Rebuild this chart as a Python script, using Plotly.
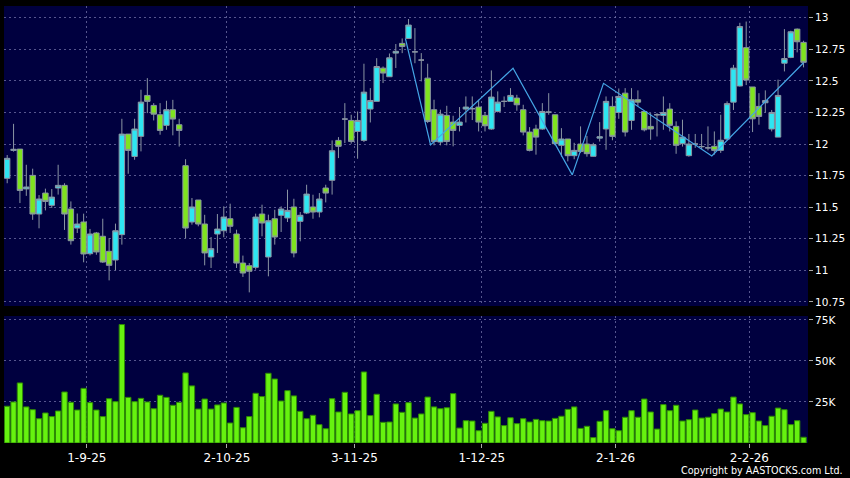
import plotly.graph_objects as go

# ---- data ----
opens = [11.729, 11.95, 11.96, 11.645, 11.752, 11.446, 11.612, 11.515, 11.652, 11.673,
         11.486, 11.335, 11.383, 11.132, 11.296, 11.27, 11.151, 11.082, 11.283, 12.079,
         11.902, 12.061, 12.385, 12.306, 12.232, 12.148, 12.272, 12.153, 11.829, 11.383,
         11.557, 11.367, 11.106, 11.288, 11.314, 11.409, 11.288, 11.058, 11.037, 11.024,
         11.446, 11.106, 11.409, 11.436, 11.415, 11.502, 11.388, 11.454, 11.502, 11.462,
         11.652, 11.713, 12.029, 12.198, 12.187, 12.1, 12.029, 12.277, 12.338, 12.601,
         12.533, 12.72, 12.797, 12.836, 12.73, 12.665, 12.522, 12.272, 12.016, 12.227,
         12.174, 12.148, 12.277, 12.28, 12.293, 12.227, 12.119, 12.258, 12.338, 12.338,
         12.364, 12.272, 12.095, 12.119, 12.119, 12.253, 12.232, 11.99, 12.04, 11.908,
         12.0, 12.0, 11.903, 12.047, 12.119, 12.298, 12.25, 12.403, 12.187, 12.351,
         12.258, 12.14, 12.232, 12.227, 12.277, 12.14, 12.003, 11.908, 12.0, 11.98,
         11.97, 11.982, 11.95, 12.04, 12.332, 12.46, 12.763, 12.452, 12.298, 12.327,
         12.119, 12.055, 12.64, 12.686, 12.91, 12.805]
highs = [11.913, 12.16, 11.96, 11.836, 11.805, 11.596, 11.647, 11.644, 11.836, 11.69,
         11.546, 11.45, 11.449, 11.328, 11.304, 11.409, 11.256, 11.37, 12.2, 12.079,
         12.2, 12.43, 12.522, 12.324, 12.324, 12.343, 12.35, 12.2, 11.88, 11.573,
         11.557, 11.44, 11.264, 11.446, 11.507, 11.528, 11.322, 11.117, 11.058, 11.449,
         11.52, 11.441, 11.48, 11.507, 11.639, 11.567, 11.462, 11.678, 11.599, 11.612,
         11.678, 12.029, 12.055, 12.324, 12.232, 12.258, 12.636, 12.443, 12.68, 12.614,
         12.717, 12.792, 12.836, 12.99, 12.918, 12.72, 12.636, 12.351, 12.272, 12.303,
         12.224, 12.293, 12.377, 12.377, 12.351, 12.253, 12.583, 12.417, 12.377, 12.443,
         12.39, 12.311, 12.134, 12.153, 12.324, 12.403, 12.232, 12.126, 12.04, 12.01,
         12.14, 12.064, 12.01, 12.174, 12.377, 12.377, 12.44, 12.443, 12.443, 12.425,
         12.258, 12.245, 12.245, 12.377, 12.324, 12.18, 12.193, 12.08, 12.08, 12.08,
         12.14, 12.1, 12.232, 12.338, 12.627, 12.96, 12.97, 12.452, 12.403, 12.425,
         12.27, 12.51, 12.91, 12.897, 12.915, 12.818]
lows = [11.69, 11.94, 11.533, 11.59, 11.40, 11.333, 11.475, 11.494, 11.60, 11.32,
        11.204, 11.296, 11.064, 11.119, 11.124, 11.059, 10.921, 11.0, 11.204, 11.765,
        11.876, 11.942, 12.245, 12.187, 12.074, 12.113, 12.069, 11.98, 11.254, 11.362,
        11.349, 11.04, 11.019, 11.138, 11.262, 11.296, 11.019, 10.948, 10.826, 11.006,
        11.27, 10.953, 11.204, 11.304, 11.383, 11.103, 11.23, 11.446, 11.409, 11.42,
        11.538, 11.6, 11.889, 12.008, 12.003, 11.884, 12.016, 12.171, 12.338, 12.483,
        12.533, 12.602, 12.72, 12.836, 12.64, 12.496, 12.166, 11.99, 11.99, 11.99,
        11.982, 12.1, 12.171, 12.19, 12.1, 12.1, 12.113, 12.25, 12.293, 12.338,
        12.264, 12.069, 11.942, 11.916, 12.113, 12.232, 11.99, 11.9, 11.863, 11.88,
        11.93, 11.9, 11.9, 12.02, 11.955, 12.03, 12.2, 12.06, 12.113, 12.3,
        12.1, 12.034, 12.06, 12.113, 12.1, 11.923, 11.98, 11.9, 11.97, 11.96,
        11.95, 11.916, 11.93, 12.03, 12.27, 12.455, 12.467, 12.095, 12.153, 12.25,
        12.1, 12.055, 12.575, 12.68, 12.726, 12.607]
closes = [11.887, 11.958, 11.633, 11.66, 11.446, 11.565, 11.546, 11.58, 11.673, 11.446,
          11.235, 11.367, 11.13, 11.288, 11.146, 11.066, 11.04, 11.314, 12.079, 11.95,
          12.119, 12.332, 12.338, 12.237, 12.108, 12.272, 12.198, 12.108, 11.335, 11.502,
          11.367, 11.138, 11.172, 11.327, 11.422, 11.349, 11.058, 10.979, 10.993, 11.422,
          11.375, 11.393, 11.264, 11.486, 11.475, 11.138, 11.436, 11.604, 11.462, 11.565,
          11.612, 11.947, 11.982, 12.198, 12.021, 12.187, 12.411, 12.345, 12.614, 12.562,
          12.683, 12.734, 12.773, 12.942, 12.73, 12.665, 12.179, 12.021, 12.237, 12.021,
          12.108, 12.174, 12.293, 12.28, 12.174, 12.145, 12.372, 12.332, 12.338, 12.385,
          12.311, 12.095, 11.95, 12.055, 12.258, 12.253, 12.003, 12.04, 11.908, 11.95,
          11.942, 11.924, 11.995, 12.058, 12.338, 12.061, 12.377, 12.095, 12.351, 12.332,
          12.113, 12.119, 12.232, 12.25, 12.148, 11.99, 12.055, 12.0, 12.0, 11.98,
          11.97, 11.95, 12.03, 12.32, 12.601, 12.93, 12.507, 12.2, 12.219, 12.345,
          12.25, 12.385, 12.677, 12.889, 12.81, 12.647]
volumes_k = [22.4, 25.0, 36.6, 22.0, 20.3, 14.8, 18.3, 16.1, 19.5, 31.1,
             24.8, 20.1, 33.3, 24.6, 20.1, 16.1, 27.0, 25.2, 72.2, 27.8,
             25.2, 27.2, 25.0, 20.9, 29.1, 27.8, 23.0, 24.8, 42.7, 34.8,
             20.7, 26.8, 20.7, 23.2, 24.4, 12.2, 21.7, 9.3, 16.1, 30.3,
             28.3, 42.5, 39.0, 25.6, 31.9, 28.7, 19.3, 14.8, 16.9, 11.2,
             8.7, 27.0, 18.9, 30.9, 17.7, 19.7, 43.3, 16.7, 29.7, 12.6,
             12.8, 23.8, 18.7, 24.6, 15.2, 17.7, 28.0, 22.0, 20.9, 21.5,
             30.1, 9.1, 13.6, 13.4, 7.5, 12.0, 19.3, 15.9, 10.6, 15.4,
             11.8, 14.8, 12.8, 14.4, 13.6, 13.4, 15.0, 16.3, 20.5, 22.0,
             8.9, 10.2, 3.3, 13.2, 19.7, 8.7, 7.5, 15.7, 19.7, 15.7,
             26.8, 18.9, 8.5, 23.4, 19.7, 23.0, 13.4, 14.2, 20.1, 15.2,
             15.7, 17.9, 20.7, 18.9, 28.0, 23.8, 17.3, 18.5, 13.4, 10.6,
             16.3, 21.3, 20.3, 11.2, 13.6, 3.5]

# pattern line (session index, price)
pattern_idx = [62.5, 66.45, 79.4, 88.7, 93.6, 110.6, 125.0]
pattern_val = [12.837, 11.993, 12.60, 11.756, 12.481, 11.906, 12.644]

# x-axis month labels and the session index of each labelled day
tick_labels = ["1-9-25", "2-10-25", "3-11-25", "1-12-25", "2-1-26", "2-2-26"]
tick_day_index = [13, 35, 55, 75, 96, 117]

price_ticks = [10.75, 11, 11.25, 11.5, 11.75, 12, 12.25, 12.5, 12.75, 13]
price_tick_text = ["10.75", "11", "11.25", "11.5", "11.75", "12", "12.25", "12.5", "12.75", "13"]
vol_ticks_k = [25, 50, 75]

# ---- figure ----
x = list(range(len(opens)))
volumes = [v * 1000 for v in volumes_k]
tick_pos = [i - 0.5 for i in tick_day_index]

CYAN = "#2ee6f2"
GREEN = "#7fe31f"
OUTLINE = "#8a95a3"
NAVY = "#00003f"
GRID = "rgba(115,115,170,0.75)"

fig = go.Figure()
fig.add_trace(go.Candlestick(
    x=x, open=opens, high=highs, low=lows, close=closes,
    increasing=dict(fillcolor=CYAN, line=dict(color=OUTLINE, width=1)),
    decreasing=dict(fillcolor=GREEN, line=dict(color=OUTLINE, width=1)),
    whiskerwidth=0, xaxis="x", yaxis="y", showlegend=False, hoverinfo="skip"))
fig.add_trace(go.Scatter(
    x=pattern_idx, y=pattern_val, mode="lines",
    line=dict(color="#45a6e6", width=1.2), xaxis="x", yaxis="y",
    showlegend=False, hoverinfo="skip"))
fig.add_trace(go.Bar(
    x=x, y=volumes, marker=dict(color="#66f20f", line=dict(color="#2e8a05", width=1)),
    xaxis="x2", yaxis="y2", showlegend=False, hoverinfo="skip"))

xr = [-0.5, 125.7]
common_x = dict(range=xr, tickvals=tick_pos, showgrid=True, gridcolor=GRID,
                griddash="2px,3px", gridwidth=1, zeroline=False, showline=False)
ygrid = dict(showgrid=True, gridcolor=GRID, griddash="2px,3px", gridwidth=1,
             zeroline=False, ticks="outside", ticklen=4, tickcolor="#aaaaaa",
             tickfont=dict(size=10.5, color="white"), side="right")
fig.update_layout(
    width=850, height=478,
    paper_bgcolor="black", plot_bgcolor=NAVY,
    margin=dict(l=4, r=42, t=6, b=35, autoexpand=False),
    boxgap=0.15, boxgroupgap=0, bargap=0.16,
    font=dict(family="DejaVu Sans", color="white"),
    xaxis=dict(**common_x, domain=[0, 1], anchor="y", showticklabels=False,
               rangeslider=dict(visible=False), ticks=""),
    xaxis2=dict(**common_x, domain=[0, 1], anchor="y2", ticktext=tick_labels,
                showticklabels=True, ticks="outside", ticklen=4,
                tickcolor="#aaaaaa", tickfont=dict(size=12, color="white")),
    yaxis=dict(**ygrid, domain=[0.3135, 1], range=[10.718, 13.093],
               tickvals=price_ticks, ticktext=price_tick_text, anchor="x"),
    yaxis2=dict(**ygrid, domain=[0, 0.2906], range=[0, 77400],
                tickvals=[v * 1000 for v in vol_ticks_k],
                ticktext=[f"{v}K" for v in vol_ticks_k], anchor="x2"),
)
fig.add_annotation(text="Copyright by AASTOCKS.com Ltd.", xref="paper", yref="paper",
                   x=1.046, y=-0.062, xanchor="right", yanchor="middle",
                   showarrow=False, font=dict(family="DejaVu Sans", size=9.6, color="white"))

fig.write_html("out.html", config={"displayModeBar": False},
               post_script="document.body.style.margin='0';document.body.style.background='black';")
